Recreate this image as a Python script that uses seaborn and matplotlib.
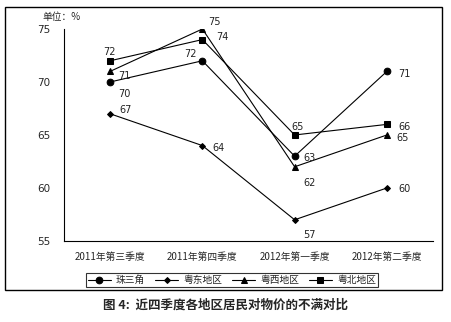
import matplotlib
matplotlib.use("Agg")
import matplotlib.pyplot as plt
import seaborn as sns
import pandas as pd
from matplotlib.patches import Rectangle

sns.set_theme(style="white")
plt.rcParams['font.family'] = ['Noto Sans CJK SC', 'DejaVu Sans']

quarters = ["2011年第三季度", "2011年第四季度", "2012年第一季度", "2012年第二季度"]
series_names = ["珠三角", "粤东地区", "粤西地区", "粤北地区"]
zsj = [70, 72, 63, 71]
yd = [67, 64, 57, 60]
yx = [71, 75, 62, 65]
yb = [72, 74, 65, 66]
values = [zsj, yd, yx, yb]

rows = []
for name, vals in zip(series_names, values):
    for i, v in enumerate(vals):
        rows.append({"x": i, "q": quarters[i], "series": name, "v": v})
df = pd.DataFrame(rows)

fig = plt.figure(figsize=(4.52, 3.22), dpi=100)
ax = fig.add_axes([0.1416, 0.2516, 0.8164, 0.6584])

markers = {"珠三角": "o", "粤东地区": "D", "粤西地区": "^", "粤北地区": "s"}
sizes = {"珠三角": 4.8, "粤东地区": 3.0, "粤西地区": 5.0, "粤北地区": 4.3}
for name in series_names:
    sub = df[df.series == name]
    sns.lineplot(data=sub, x="x", y="v", ax=ax, color="black", linewidth=0.8,
                 marker=markers[name], markersize=sizes[name], markeredgecolor="black",
                 label=name, legend=False)

# value labels (offsets in points)
offs = {
    "珠三角": [(6, -9), (-13, 5), (6, -1), (8, -2)],
    "粤东地区": [(7, 3), (7, -2), (6, -11), (8, -1)],
    "粤西地区": [(6, -3), (4, 5), (6, -12), (7, -2)],
    "粤北地区": [(-5, 6), (10, 2), (-2, 6), (8, -2)],
}
for name, vals in zip(series_names, values):
    for i, v in enumerate(vals):
        ax.annotate(str(v), (i, v), xytext=offs[name][i], textcoords="offset points",
                    fontsize=7, fontfamily="DejaVu Sans", color="#222222", va="center", ha="left")

ax.set_xlim(-0.5, 3.5)
ax.set_ylim(55, 75)
ax.set_yticks([55, 60, 65, 70, 75])
ax.set_xticks([-0.5, 0.5, 1.5, 2.5, 3.5])
ax.set_xticklabels([])
ax.set_xticks([0, 1, 2, 3], minor=True)
ax.set_xticklabels(quarters, minor=True, fontsize=7)
ax.tick_params(axis="x", which="major", length=4, direction="in", color="black", width=0.8)
ax.tick_params(axis="x", which="minor", length=0, pad=8)
ax.tick_params(axis="y", length=4, direction="out", labelsize=7.5, color="black", width=0.8, pad=6)
for lab in ax.get_yticklabels():
    lab.set_fontfamily("DejaVu Sans")
ax.set_xlabel("")
ax.set_ylabel("")
for s in ["top", "right"]:
    ax.spines[s].set_visible(False)
for s in ["left", "bottom"]:
    ax.spines[s].set_color("black")
    ax.spines[s].set_linewidth(0.8)
ax.grid(False)

fig.text(42/452, 1 - 17/322, "单位：%", fontsize=7, va="center", ha="left")

handles, labels = ax.get_legend_handles_labels()
leg = fig.legend(handles, labels, loc="center", bbox_to_anchor=(0.513, 0.130), ncol=4,
                 fontsize=7, frameon=True, fancybox=False, edgecolor="black",
                 handlelength=2.4, columnspacing=1.0, handletextpad=0.5, borderpad=0.2)
leg.get_frame().set_linewidth(0.8)

fig.patches.append(Rectangle((0.011, 0.099), 0.967, 0.879, transform=fig.transFigure,
                             fill=False, edgecolor="black", linewidth=1.0))

fig.text(0.5, 1 - 305/322, "图 4:  近四季度各地区居民对物价的不满对比", fontsize=9,
         fontweight="bold", ha="center", va="center")

fig.savefig("out.png", dpi=100, facecolor="white")
